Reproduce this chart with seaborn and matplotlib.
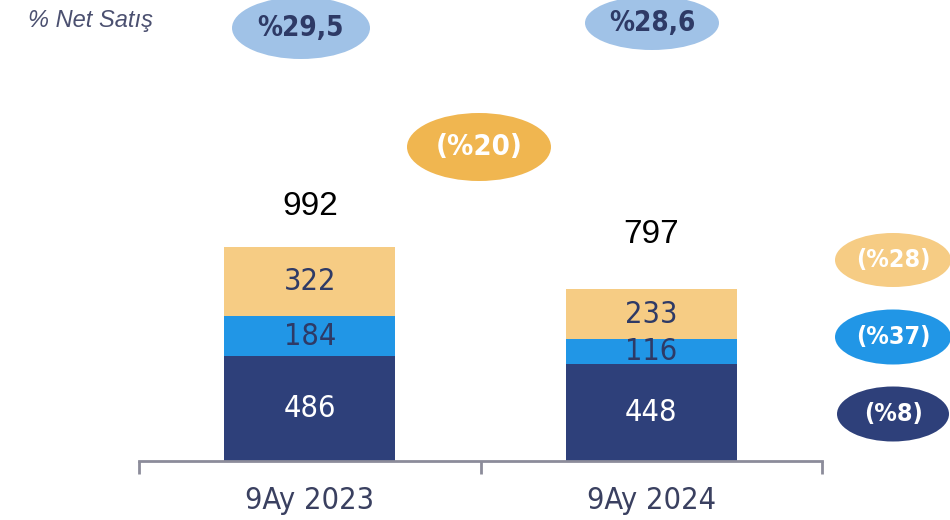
import matplotlib
matplotlib.use('Agg')
import matplotlib.pyplot as plt
import seaborn as sns
import pandas as pd
from matplotlib.patches import Ellipse

# Veriler (milyon TL)
donemler = ['9Ay 2023', '9Ay 2024']
alt = [486, 448]       # lacivert dilim
orta = [184, 116]      # mavi dilim
ust = [322, 233]       # bej dilim
toplam = [992, 797]
marj = ['%29,5', '%28,6']
degisim_toplam = '(%20)'
degisim_dilim = ['(%28)', '(%37)', '(%8)']   # bej, mavi, lacivert

LACIVERT = '#2E407A'
MAVI = '#2196E6'
BEJ = '#F6CC84'
TURUNCU = '#F0B650'
ACIK_MAVI = '#A0C2E7'
YAZI = '#2E3A66'

sns.set_style('white')
plt.rcParams['font.family'] = ['DejaVu Sans']
plt.rcParams['font.stretch'] = 'condensed'

df = pd.DataFrame({'Donem': donemler, 'alt': alt, 'orta': orta, 'ust': ust, 'toplam': toplam})
df['alt_orta'] = df['alt'] + df['orta']

W, H = 950, 520
fig = plt.figure(figsize=(W / 100, H / 100), dpi=100)
ax = fig.add_axes([139 / W, 59 / H, 683 / W, 461 / H])

# Yığılmış çubuklar: üstten alta doğru üst üste çiz
sns.barplot(data=df, x='Donem', y='toplam', color=BEJ, width=0.5, linewidth=0, saturation=1, ax=ax)
sns.barplot(data=df, x='Donem', y='alt_orta', color=MAVI, width=0.5, linewidth=0, saturation=1, ax=ax)
sns.barplot(data=df, x='Donem', y='alt', color=LACIVERT, width=0.5, linewidth=0, saturation=1, ax=ax)

ax.set_xlim(-0.5, 1.5)
ax.set_ylim(0, 461 / 0.2157)
ax.set_xlabel('')
ax.set_ylabel('')
ax.set_yticks([])
for s in ['top', 'right', 'left']:
    ax.spines[s].set_visible(False)
ax.spines['bottom'].set_color('#8C8C9A')
ax.spines['bottom'].set_linewidth(2)

ax.set_xticks([-0.5, 0.5, 1.5])
ax.set_xticklabels([])
ax.tick_params(axis='x', which='major', bottom=True, length=9, width=2, color='#8C8C9A', direction='out')
ax.set_xticks([0, 1], minor=True)
ax.set_xticklabels(donemler, minor=True, fontsize=22, color='#3A4060')
ax.tick_params(axis='x', which='minor', bottom=True, length=0, pad=18)

# Dilim etiketleri
for i in range(len(donemler)):
    ax.text(i, alt[i] / 2, str(alt[i]), ha='center', va='center', fontsize=22, color='white')
    ax.text(i, alt[i] + orta[i] / 2, str(orta[i]), ha='center', va='center', fontsize=22, color=YAZI)
    ax.text(i, alt[i] + orta[i] + ust[i] / 2, str(ust[i]), ha='center', va='center', fontsize=22, color=YAZI)

# Toplam etiketleri
ofset = [29, 39]
for i, t in enumerate(toplam):
    ax.annotate(str(t), (i, t), xytext=(0, ofset[i]), textcoords='offset points',
                ha='center', va='center', fontsize=24, color='black', stretch='normal',
                family=['Liberation Sans', 'DejaVu Sans'])


def balon(xc, yc, w, h, renk, yazi, yazi_renk, fs):
    fig.add_artist(Ellipse((xc / W, 1 - yc / H), w / W, h / H, transform=fig.transFigure,
                           facecolor=renk, edgecolor='none'))
    fig.text(xc / W, 1 - yc / H, yazi, ha='center', va='center', fontsize=fs,
             fontweight='bold', color=yazi_renk)


balon(301, 28, 138, 62, ACIK_MAVI, marj[0], YAZI, 20)
balon(652, 23, 134, 54, ACIK_MAVI, marj[1], YAZI, 20)
balon(479, 147, 144, 68, TURUNCU, degisim_toplam, 'white', 21)
balon(893, 260, 116, 54, BEJ, degisim_dilim[0], 'white', 18)
balon(893, 337, 116, 55, MAVI, degisim_dilim[1], 'white', 18)
balon(893, 414, 112, 55, LACIVERT, degisim_dilim[2], 'white', 18)

fig.text(28 / W, 1 - 21 / H, '% Net Satış', ha='left', va='center', fontsize=17,
         style='italic', stretch='normal', color='#4B5070', family=['Liberation Sans', 'DejaVu Sans'])

fig.savefig('out.png', dpi=100)
